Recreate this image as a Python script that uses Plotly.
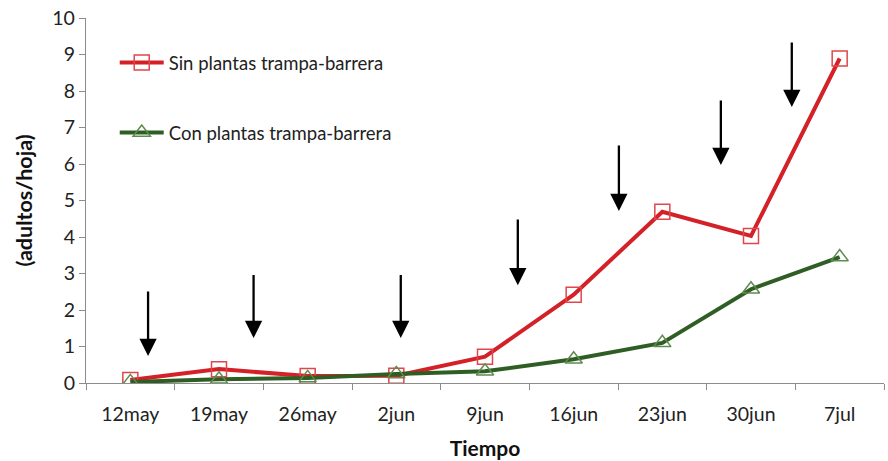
import plotly.graph_objects as go

categories = ["12may", "19may", "26may", "2jun", "9jun", "16jun", "23jun", "30jun", "7jul"]
sin_plantas = [0.08, 0.38, 0.19, 0.20, 0.72, 2.42, 4.69, 4.03, 8.89]
con_plantas = [0.03, 0.10, 0.14, 0.25, 0.32, 0.65, 1.10, 2.57, 3.45]

# application arrows (category index position, arrow tip value, arrow tail value)
arrow_x = [0.2, 1.39, 3.05, 4.37, 5.51, 6.66, 7.46]
arrow_tip = [0.74, 1.23, 1.23, 2.68, 4.71, 5.97, 7.56]
arrow_top = [2.55, 3.0, 3.0, 4.52, 6.55, 7.78, 9.37]

FONT = "Lato"
RED = "#D42027"
RED_M = "#E0464B"
GREEN = "#2F5E24"
GREEN_M = "#5E8C50"
GRAY = "#8C8C8C"

fig = go.Figure()
fig.add_trace(go.Scatter(
    x=categories, y=sin_plantas, mode="lines+markers",
    name="Sin plantas trampa-barrera",
    line=dict(color=RED, width=4),
    marker=dict(symbol="square-open", size=15, color=RED_M, line=dict(width=1.5, color=RED_M)),
    legend="legend",
))
fig.add_trace(go.Scatter(
    x=categories, y=con_plantas, mode="lines+markers",
    name="Con plantas trampa-barrera",
    line=dict(color=GREEN, width=4),
    marker=dict(symbol="triangle-up-open", size=15, color=GREEN_M, line=dict(width=1.5, color=GREEN_M)),
    legend="legend2",
))

for xa, yt, yb in zip(arrow_x, arrow_tip, arrow_top):
    fig.add_annotation(
        x=xa, y=yt, ax=xa, ay=yb, xref="x", yref="y", axref="x", ayref="y",
        showarrow=True, arrowhead=2, arrowsize=1.5, arrowwidth=2.3, arrowcolor="black", text="",
    )

legend_style = dict(
    font=dict(family=FONT, size=18.5, color="#222"),
    bgcolor="rgba(0,0,0,0)", borderwidth=0,
    xanchor="left", yanchor="middle", x=0.036, itemwidth=44,
)

fig.update_layout(
    width=888, height=461,
    margin=dict(l=86, r=4, t=18, b=78),
    paper_bgcolor="white", plot_bgcolor="white",
    font=dict(family=FONT, size=19.5, color="#222"),
    legend=dict(y=0.877, **legend_style),
    legend2=dict(y=0.685, **legend_style),
    xaxis=dict(
        type="category", tickson="boundaries", range=[-0.5, 8.5],
        showline=True, linecolor=GRAY, linewidth=1.3,
        ticks="outside", ticklen=6, tickcolor=GRAY, tickwidth=1.3,
        showgrid=False, zeroline=False, automargin=False,
        tickfont=dict(family=FONT, size=19.5, color="#222"),
        ticklabelstandoff=13,
        title=dict(text="<b>Tiempo</b>", font=dict(family=FONT, size=21, color="#111"), standoff=17),
    ),
    yaxis=dict(
        range=[0, 10], dtick=1, tick0=0,
        showline=True, linecolor=GRAY, linewidth=1.3,
        ticks="outside", ticklen=6, tickcolor=GRAY, tickwidth=1.3,
        showgrid=False, zeroline=False, automargin=False,
        tickfont=dict(family=FONT, size=19.5, color="#222"),
        title=dict(text="<b>(adultos/hoja)</b>", font=dict(family=FONT, size=21.5, color="#111"), standoff=13),
    ),
    showlegend=True,
)

fig.write_html("out.html", config={"displayModeBar": False},
               post_script="document.body.style.margin='0';")
